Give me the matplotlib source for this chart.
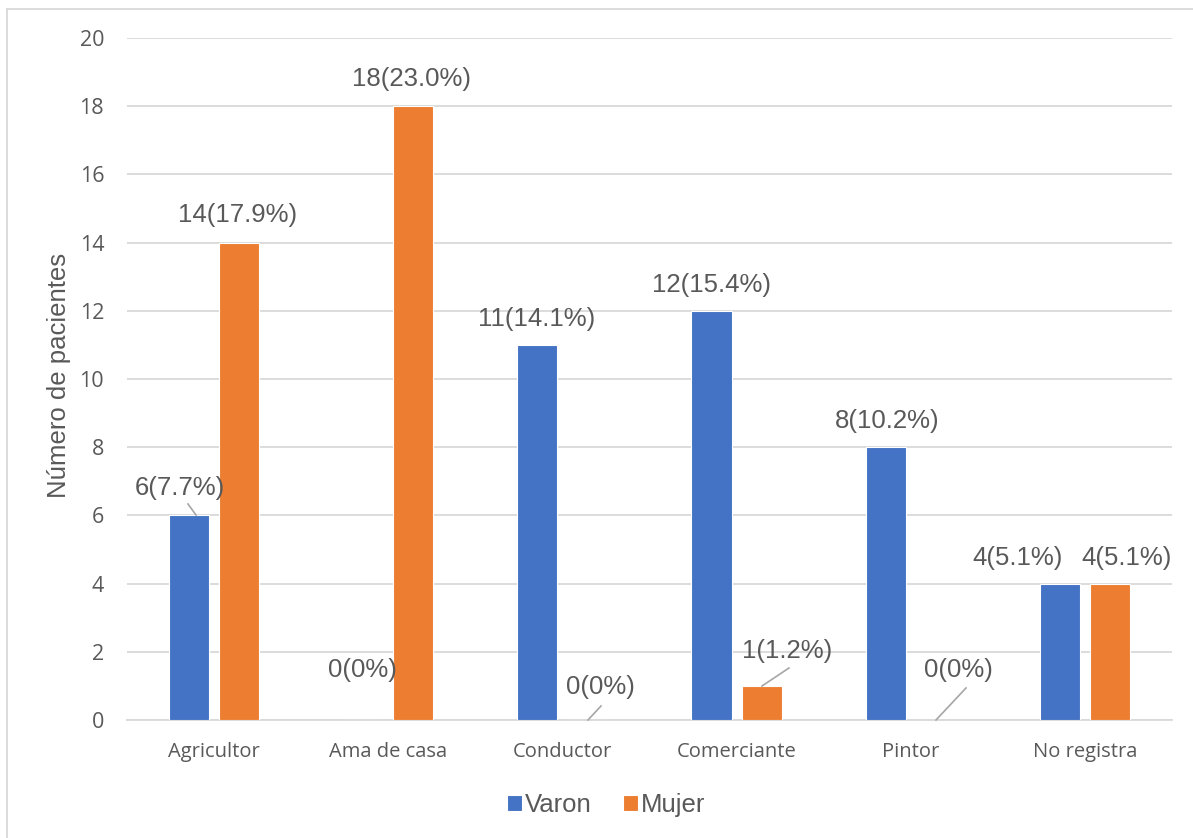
import matplotlib
matplotlib.use("Agg")
import matplotlib.pyplot as plt
from matplotlib.lines import Line2D
import numpy as np

categories = ["Agricultor", "Ama de casa", "Conductor", "Comerciante", "Pintor", "No registra"]
varon = [6, 0, 11, 12, 8, 4]
mujer = [14, 18, 0, 1, 0, 4]
varon_labels = ["6(7.7%)", "0(0%)", "11(14.1%)", "12(15.4%)", "8(10.2%)", "4(5.1%)"]
mujer_labels = ["14(17.9%)", "18(23.0%)", "0(0%)", "1(1.2%)", "0(0%)", "4(5.1%)"]
yticks = [0, 2, 4, 6, 8, 10, 12, 14, 16, 18, 20]

BLUE = "#4472C4"
ORANGE = "#ED7D31"
GRAY = "#595959"

W, H = 1193, 838
fig = plt.figure(figsize=(W / 100, H / 100), dpi=100)
left, right, top, bottom = 127, 1172, 38, 720
ax = fig.add_axes([left / W, 1 - bottom / H, (right - left) / W, (bottom - top) / H])

x = np.arange(len(categories))
bw = 0.23
off = 0.144
ax.bar(x - off, varon, bw, color=BLUE, edgecolor="white", linewidth=0.8, zorder=3, label="Varon")
ax.bar(x + off, mujer, bw, color=ORANGE, edgecolor="white", linewidth=0.8, zorder=3, label="Mujer")

ax.set_xlim(-0.5, len(categories) - 0.5)
ax.set_ylim(0, 20)
ax.set_yticks(yticks)
ax.set_xticks(x)
ax.set_xticklabels(categories)
ax.grid(axis="y", color="#D9D9D9", linewidth=1.3, zorder=0)
for s in ["top", "right", "left"]:
    ax.spines[s].set_visible(False)
ax.spines["bottom"].set_color("#D9D9D9")
ax.spines["bottom"].set_linewidth(1.3)
ax.tick_params(axis="both", length=0, colors=GRAY)
ax.tick_params(axis="x", pad=16, labelsize=14.5)
ax.tick_params(axis="y", pad=16.5, labelsize=15.5)
for lab in ax.get_xticklabels() + ax.get_yticklabels():
    lab.set_fontfamily("Open Sans")

lab_font = dict(fontsize=18.5, color=GRAY, family="Liberation Sans", ha="center", va="center", zorder=5)

def px2data(px, py):
    return ((px - left) / ((right - left) / len(categories)) - 0.5, (bottom - py) / ((bottom - top) / 20.0))

# label pixel positions (centres) for Varon and Mujer
varon_pos = [(180, 488), (362, 670), (537, 319), (711, 285), (887, 421), (1018, 558)]
mujer_pos = [(238, 215), (412, 79), (600, 687), (787, 651), (958, 670), (1127, 558)]

for i in range(len(categories)):
    xd, yd = px2data(*varon_pos[i])
    ax.text(xd, yd, varon_labels[i], **lab_font)
    xd, yd = px2data(*mujer_pos[i])
    ax.text(xd, yd, mujer_labels[i], **lab_font)

# leader lines (pixel segments)
leaders = [((188, 504), (196, 515)), ((588, 720), (601, 706)), ((762, 686), (789, 668)), ((936, 720), (966, 688))]
for (p1, p2) in leaders:
    a = px2data(*p1)
    b = px2data(*p2)
    ax.plot([a[0], b[0]], [a[1], b[1]], color="#A6A6A6", linewidth=1.2, zorder=4, clip_on=False)

ax.set_ylabel("Número de pacientes", fontsize=18.5, color=GRAY, family="Liberation Sans")
ax.yaxis.set_label_coords((71 - left) / (right - left), (bottom - 375) / (bottom - top))

leg = fig.legend(loc="center", bbox_to_anchor=(606 / W, 1 - 805 / H), ncol=2, frameon=False,
                 prop={"family": "Liberation Sans", "size": 18.5}, handlelength=0.6, handleheight=0.6,
                 handletextpad=0.12, columnspacing=1.2, borderpad=0)
for t in leg.get_texts():
    t.set_color(GRAY)

# figure border (top and left)
fig.add_artist(Line2D([7 / W, 1], [1 - 9 / H, 1 - 9 / H], color="#D9D9D9", linewidth=1.3, transform=fig.transFigure))
fig.add_artist(Line2D([7 / W, 7 / W], [1 - 9 / H, 0], color="#D9D9D9", linewidth=1.3, transform=fig.transFigure))

fig.savefig("out.png", dpi=100, facecolor="white")
